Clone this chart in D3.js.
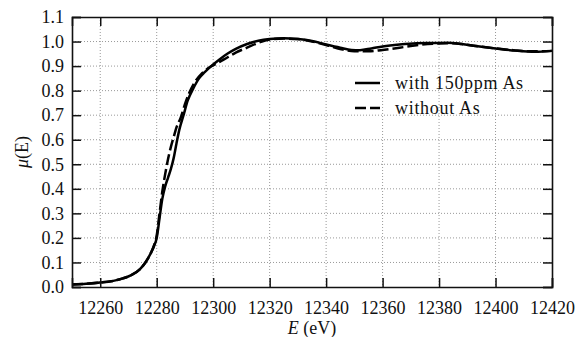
<!DOCTYPE html>
<html>
<head>
<meta charset="utf-8">
<script src="https://d3js.org/d3.v7.min.js"></script>
<style>
  body { margin: 0; background: #fff; }
  svg text { font-family: "Liberation Serif", "Times New Roman", serif; fill: #111; }
</style>
</head>
<body>
<svg id="chart" width="585" height="337"></svg>
<script>
// energy (eV) and normalised absorption
var energyWith = [12250, 12255, 12260, 12265, 12268, 12271, 12274, 12276, 12278, 12279, 12280, 12281, 12282, 12283, 12284, 12285, 12286, 12287, 12288, 12289.5, 12291, 12293, 12295, 12297, 12299, 12302, 12305, 12308, 12312, 12316, 12320, 12325, 12330, 12335, 12340, 12345, 12349, 12352, 12356, 12360, 12366, 12372, 12378, 12383, 12388, 12393, 12400, 12407, 12414, 12420];
var muWith = [0.010, 0.013, 0.018, 0.026, 0.035, 0.048, 0.072, 0.100, 0.140, 0.165, 0.200, 0.280, 0.360, 0.410, 0.445, 0.480, 0.525, 0.585, 0.640, 0.700, 0.760, 0.810, 0.850, 0.875, 0.897, 0.925, 0.950, 0.970, 0.990, 1.003, 1.010, 1.013, 1.010, 1.002, 0.988, 0.975, 0.966, 0.965, 0.972, 0.980, 0.988, 0.993, 0.994, 0.995, 0.990, 0.982, 0.972, 0.963, 0.958, 0.962];

var energyWithout = [12250, 12255, 12260, 12265, 12268, 12271, 12274, 12276, 12278, 12279, 12280, 12281, 12282, 12283, 12284, 12285, 12286, 12287, 12288.5, 12290, 12291.5, 12293.5, 12296, 12299, 12302, 12305, 12308, 12312, 12316, 12320, 12325, 12330, 12335, 12340, 12345, 12350, 12355, 12360, 12366, 12372, 12378, 12383, 12388, 12393, 12400, 12407, 12414, 12420];
var muWithout = [0.010, 0.013, 0.018, 0.026, 0.035, 0.048, 0.072, 0.100, 0.140, 0.168, 0.210, 0.300, 0.390, 0.460, 0.520, 0.570, 0.610, 0.650, 0.690, 0.745, 0.790, 0.835, 0.870, 0.897, 0.915, 0.935, 0.955, 0.975, 0.995, 1.008, 1.012, 1.010, 1.000, 0.986, 0.970, 0.960, 0.960, 0.966, 0.975, 0.985, 0.991, 0.993, 0.990, 0.982, 0.972, 0.964, 0.960, 0.962];

var xTicks = [12260, 12280, 12300, 12320, 12340, 12360, 12380, 12400, 12420];
var yTicks = [0.0, 0.1, 0.2, 0.3, 0.4, 0.5, 0.6, 0.7, 0.8, 0.9, 1.0, 1.1];
var seriesNames = ["with 150ppm As", "without As"];

var svg = d3.select("#chart");
// plot box (names avoid window.top)
var pLeft = 72, pRight = 552, pTop = 17, pBottom = 287;

var xs = d3.scaleLinear().domain([12250, 12420]).range([pLeft, pRight]);
var ys = d3.scaleLinear().domain([0, 1.1]).range([pBottom, pTop]);

// dotted grid
var grid = svg.append("g");
grid.selectAll(".gx").data(xTicks.slice(0, -1)).enter().append("line")
  .attr("x1", function(d) { return xs(d); }).attr("x2", function(d) { return xs(d); })
  .attr("y1", pTop).attr("y2", pBottom)
  .attr("stroke", "#999").attr("stroke-width", 1).attr("stroke-dasharray", "1,2");
grid.selectAll(".gy").data(yTicks.slice(1, -1)).enter().append("line")
  .attr("x1", pLeft).attr("x2", pRight)
  .attr("y1", function(d) { return ys(d); }).attr("y2", function(d) { return ys(d); })
  .attr("stroke", "#999").attr("stroke-width", 1).attr("stroke-dasharray", "1,2");

// curves
var line = d3.line()
  .x(function(d) { return xs(d[0]); })
  .y(function(d) { return ys(d[1]); })
  .curve(d3.curveMonotoneX);

svg.append("path")
  .datum(d3.zip(energyWithout, muWithout))
  .attr("d", line).attr("fill", "none")
  .attr("stroke", "#000").attr("stroke-width", 2.5).attr("stroke-dasharray", "11,4");
svg.append("path")
  .datum(d3.zip(energyWith, muWith))
  .attr("d", line).attr("fill", "none")
  .attr("stroke", "#000").attr("stroke-width", 2.5);

// axes, ticks inward on all four sides
var tickLen = 9;
svg.append("g").attr("transform", "translate(0," + pBottom + ")")
  .call(d3.axisBottom(xs).tickValues(xTicks).tickSize(-tickLen).tickPadding(14).tickFormat(d3.format("d")));
svg.append("g").attr("transform", "translate(0," + pTop + ")")
  .call(d3.axisTop(xs).tickValues(xTicks).tickSize(-tickLen).tickFormat(""));
svg.append("g").attr("transform", "translate(" + pLeft + ",0)")
  .call(d3.axisLeft(ys).tickValues(yTicks).tickSize(-tickLen).tickPadding(8).tickFormat(d3.format(".1f")));
svg.append("g").attr("transform", "translate(" + pRight + ",0)")
  .call(d3.axisRight(ys).tickValues(yTicks).tickSize(-tickLen).tickFormat(""));

svg.selectAll(".domain").attr("stroke", "#111").attr("stroke-width", 1.6);
svg.selectAll(".tick line").attr("stroke", "#111").attr("stroke-width", 1.5);
svg.selectAll(".tick text").style("font-size", "18px").attr("fill", "#111")
  .style("font-family", "'Liberation Serif', serif");

// axis labels
var xl = svg.append("text").attr("x", (pLeft + pRight) / 2).attr("y", 334)
  .attr("text-anchor", "middle").style("font-size", "18px");
xl.append("tspan").style("font-style", "italic").text("E");
xl.append("tspan").text(" (eV)");

var yl = svg.append("text")
  .attr("transform", "translate(28," + ((pTop + pBottom) / 2) + ") rotate(-90)")
  .attr("text-anchor", "middle").style("font-size", "18px");
yl.append("tspan").style("font-style", "italic").text("\u03bc");
yl.append("tspan").text("(E)");

// legend
var legend = svg.append("g");
seriesNames.forEach(function(name, i) {
  var ly = 83 + i * 25;
  legend.append("line").attr("x1", 355).attr("x2", 380).attr("y1", ly).attr("y2", ly)
    .attr("stroke", "#000").attr("stroke-width", 2.5)
    .attr("stroke-dasharray", i === 1 ? "11,4" : null);
  legend.append("text").attr("x", 395).attr("y", ly + 5.5)
    .style("font-size", "18px").style("letter-spacing", "0.7px").text(name);
});
</script>
</body>
</html>
